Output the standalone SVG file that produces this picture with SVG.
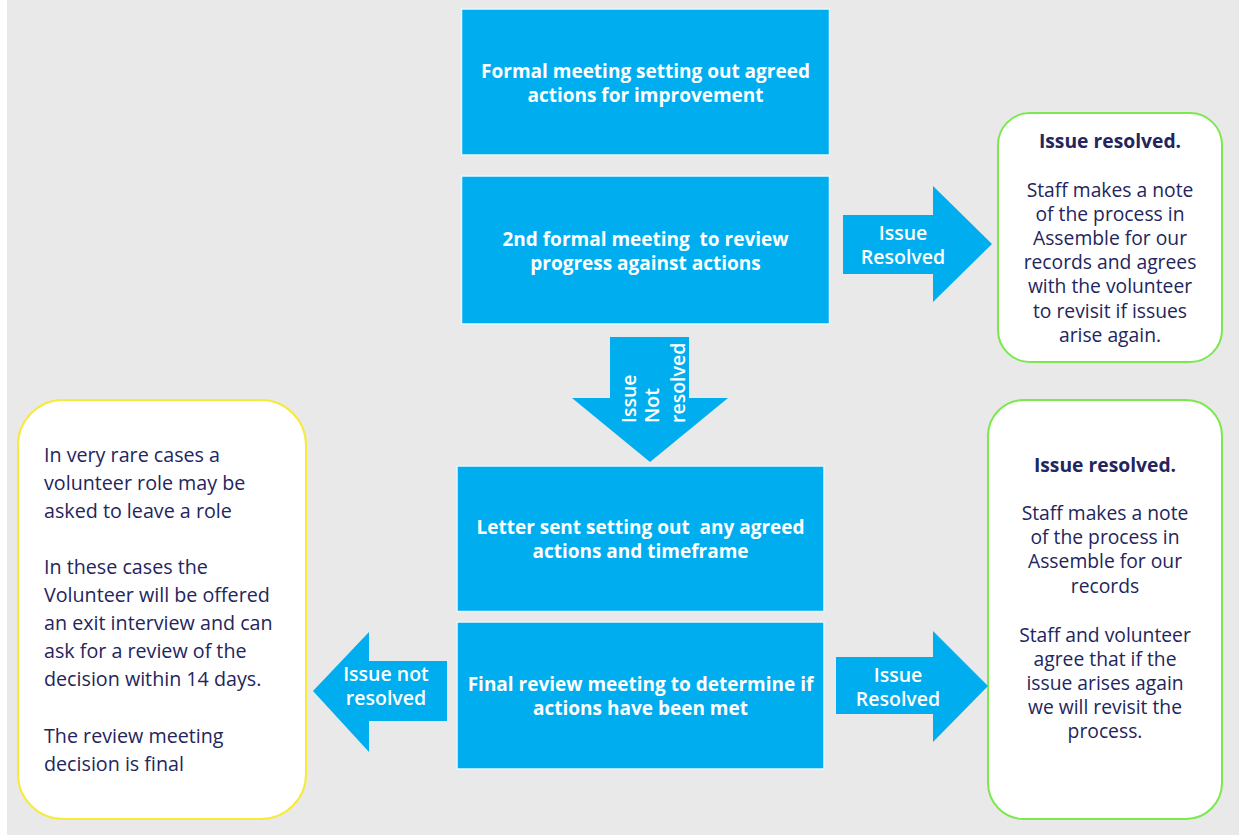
<svg xmlns="http://www.w3.org/2000/svg" width="1239" height="835" viewBox="0 0 1239 835">
  <style>
    .step { fill: #00aeef; stroke: #e6f6fd; stroke-width: 1.5; }
    .arrow { fill: #00aeef; }
    .note-green { fill: #ffffff; stroke: #7be84d; stroke-width: 2; }
    .note-yellow { fill: #ffffff; stroke: #f6ea3c; stroke-width: 2; }
    .step-text { font-family: "Open Sans", "Lato", sans-serif; font-weight: 700; font-size: 19px; fill: #ffffff; text-anchor: middle; white-space: pre; }
    .arrow-text { font-family: "Open Sans", "Lato", sans-serif; font-weight: 600; font-size: 19.5px; fill: #ffffff; text-anchor: middle; }
    .note-text { font-family: "Open Sans", "Lato", sans-serif; font-size: 19.3px; fill: #23255c; text-anchor: middle; }
    .note-left { font-family: "Open Sans", "Lato", sans-serif; font-size: 19.7px; fill: #23255c; }
    .bold { font-weight: 700; }
  </style>

  <!-- page background -->
  <rect x="0" y="0" width="1239" height="835" fill="#ffffff"/>
  <rect x="7" y="0" width="1232" height="835" fill="#e9e9e9"/>

  <!-- process steps -->
  <g id="step-formal-meeting">
    <rect class="step" x="461.5" y="9" width="368" height="146"/>
    <text class="step-text" x="645.5" y="78">Formal meeting setting out agreed</text>
    <text class="step-text" x="645.5" y="102">actions for improvement</text>
  </g>

  <g id="step-second-meeting">
    <rect class="step" x="461.5" y="176" width="368" height="148"/>
    <text class="step-text" x="645.5" y="246" xml:space="preserve">2nd formal meeting  to review</text>
    <text class="step-text" x="645.5" y="270">progress against actions</text>
  </g>

  <g id="step-letter">
    <rect class="step" x="457" y="466" width="367" height="145.5"/>
    <text class="step-text" x="640.5" y="534" xml:space="preserve">Letter sent setting out  any agreed</text>
    <text class="step-text" x="640.5" y="558">actions and timeframe</text>
  </g>

  <g id="step-final-review">
    <rect class="step" x="457" y="622" width="367" height="147"/>
    <text class="step-text" x="640.5" y="691">Final review meeting to determine if</text>
    <text class="step-text" x="640.5" y="715">actions have been met</text>
  </g>

  <!-- outcome notes -->
  <g id="note-resolved-first">
    <rect class="note-green" x="998" y="113" width="224" height="249" rx="32" ry="32"/>
    <text class="note-text bold" x="1110" y="148">Issue resolved.</text>
    <text class="note-text" x="1110" y="197">Staff makes a note</text>
    <text class="note-text" x="1110" y="221">of the process in</text>
    <text class="note-text" x="1110" y="245">Assemble for our</text>
    <text class="note-text" x="1110" y="269">records and agrees</text>
    <text class="note-text" x="1110" y="293">with the volunteer</text>
    <text class="note-text" x="1110" y="318">to revisit if issues</text>
    <text class="note-text" x="1110" y="342">arise again.</text>
  </g>

  <g id="note-resolved-final">
    <rect class="note-green" x="988" y="400" width="234" height="419" rx="36" ry="36"/>
    <text class="note-text bold" x="1105" y="472">Issue resolved.</text>
    <text class="note-text" x="1105" y="520">Staff makes a note</text>
    <text class="note-text" x="1105" y="544">of the process in</text>
    <text class="note-text" x="1105" y="568">Assemble for our</text>
    <text class="note-text" x="1105" y="593">records</text>
    <text class="note-text" x="1105" y="642">Staff and volunteer</text>
    <text class="note-text" x="1105" y="666">agree that if the</text>
    <text class="note-text" x="1105" y="690">issue arises again</text>
    <text class="note-text" x="1105" y="714">we will revisit the</text>
    <text class="note-text" x="1105" y="738">process.</text>
  </g>

  <g id="note-not-resolved">
    <rect class="note-yellow" x="18" y="400" width="288" height="419" rx="45" ry="45"/>
    <text class="note-left" x="44" y="462">In very rare cases a</text>
    <text class="note-left" x="44" y="490">volunteer role may be</text>
    <text class="note-left" x="44" y="518">asked to leave a role</text>
    <text class="note-left" x="44" y="574">In these cases the</text>
    <text class="note-left" x="44" y="602">Volunteer will be offered</text>
    <text class="note-left" x="44" y="630">an exit interview and can</text>
    <text class="note-left" x="44" y="658">ask for a review of the</text>
    <text class="note-left" x="44" y="686">decision within 14 days.</text>
    <text class="note-left" x="44" y="743">The review meeting</text>
    <text class="note-left" x="44" y="771">decision is final</text>
  </g>

  <!-- block arrows between steps -->
  <g id="connectors">
    <g id="arrow-resolved-first">
      <polygon class="arrow" points="843,215 933,215 933,186 992,244 933,302 933,274 843,274"/>
      <text class="arrow-text" x="903" y="240">Issue</text>
      <text class="arrow-text" x="903" y="264">Resolved</text>
    </g>
    <g id="arrow-not-resolved-down">
      <polygon class="arrow" points="610,337 689,337 689,398 728,398 650,462 572,398 610,398"/>
      <text class="arrow-text" transform="translate(636,423) rotate(-90)" x="0" y="0" style="text-anchor:start">Issue</text>
      <text class="arrow-text" transform="translate(659,423) rotate(-90)" x="0" y="0" style="text-anchor:start">Not</text>
      <text class="arrow-text" transform="translate(685,423) rotate(-90)" x="0" y="0" style="text-anchor:start">resolved</text>
    </g>
    <g id="arrow-not-resolved-left">
      <polygon class="arrow" points="447,661 369,661 369,632 313,691 369,752 369,721 447,721"/>
      <text class="arrow-text" x="386" y="681">Issue not</text>
      <text class="arrow-text" x="386" y="705">resolved</text>
    </g>
    <g id="arrow-resolved-final">
      <polygon class="arrow" points="836,657 933,657 933,631 988,686 933,742 933,714 836,714"/>
      <text class="arrow-text" x="898" y="682">Issue</text>
      <text class="arrow-text" x="898" y="706">Resolved</text>
    </g>
  </g>
</svg>
